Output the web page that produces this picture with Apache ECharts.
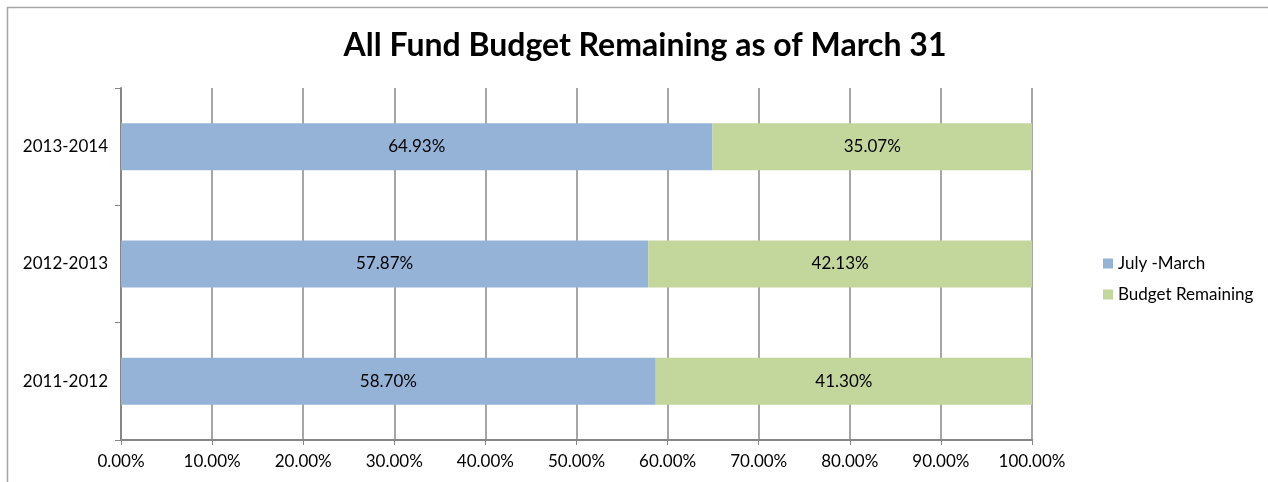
<!DOCTYPE html>
<html>
<head>
<meta charset="utf-8">
<script src="https://cdn.jsdelivr.net/npm/echarts@6/dist/echarts.min.js"></script>
<style>
  html, body { margin: 0; padding: 0; background: #fff; }
  #chart { width: 1268px; height: 482px; }
</style>
</head>
<body>
<div id="chart"></div>
<script>
(function() {
  var myChart = echarts.init(document.getElementById('chart'));

  var years = ['2011-2012', '2012-2013', '2013-2014'];
  var julyMarch = [58.70, 57.87, 64.93];
  var budgetRemaining = [41.30, 42.13, 35.07];

  var font = 'Lato, "Open Sans", sans-serif';

  function pctLabel(params) {
    return params.value.toFixed(2) + '%';
  }

  var option = {
    animation: false,
    textStyle: { fontFamily: font },
    title: {
      text: 'All Fund Budget Remaining as of March 31',
      left: 640,
      top: 25,
      textAlign: 'center',
      textStyle: { fontSize: 32, fontWeight: 'bold', color: '#000', fontFamily: font }
    },
    graphic: [{
      type: 'rect',
      shape: { x: 7.5, y: 7.5, width: 1400, height: 600 },
      style: { fill: 'none', stroke: '#a6a6a6', lineWidth: 1.5 },
      silent: true
    }],
    legend: {
      orient: 'vertical',
      left: 1098,
      top: 250,
      itemWidth: 10,
      itemHeight: 10,
      itemGap: 14,
      icon: 'rect',
      textStyle: { fontSize: 17, color: '#000', fontFamily: font },
      data: ['July -March', 'Budget Remaining']
    },
    grid: {
      left: 121,
      right: 236,
      top: 88,
      bottom: 42
    },
    xAxis: {
      type: 'value',
      min: 0,
      max: 100,
      interval: 10,
      axisLine: { show: true, lineStyle: { color: '#868686', width: 2 } },
      axisTick: { show: true, length: 5, lineStyle: { color: '#868686' } },
      splitLine: { show: true, lineStyle: { color: '#a6a6a6', width: 2 } },
      axisLabel: {
        color: '#000',
        fontSize: 17,
        margin: 13,
        fontFamily: font,
        formatter: function(v) { return v.toFixed(2) + '%'; }
      }
    },
    yAxis: {
      type: 'category',
      data: years,
      axisLine: { show: true, lineStyle: { color: '#868686', width: 2 } },
      axisTick: { show: true, length: 6, lineStyle: { color: '#868686' } },
      axisLabel: { color: '#000', fontSize: 17, margin: 13, fontFamily: font }
    },
    series: [{
      name: 'July -March',
      type: 'bar',
      stack: 'total',
      barWidth: '40%',
      data: julyMarch,
      itemStyle: { color: '#95b3d7' },
      label: { show: true, position: 'inside', color: '#000', fontSize: 17, fontFamily: font, formatter: pctLabel }
    }, {
      name: 'Budget Remaining',
      type: 'bar',
      stack: 'total',
      barWidth: '40%',
      data: budgetRemaining,
      itemStyle: { color: '#c3d69b' },
      label: { show: true, position: 'inside', color: '#000', fontSize: 17, fontFamily: font, formatter: pctLabel }
    }]
  };

  myChart.setOption(option);
})();
</script>
</body>
</html>
